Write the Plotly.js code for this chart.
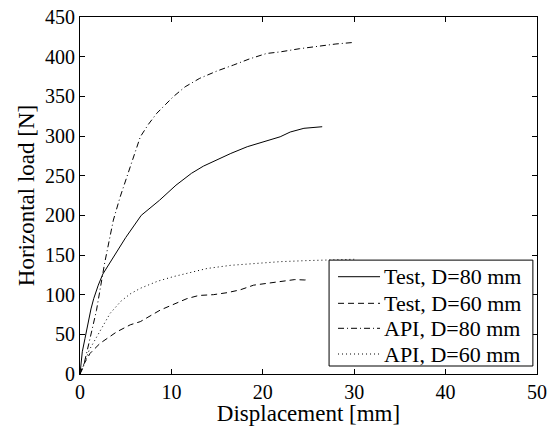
<!DOCTYPE html>
<html>
<head>
<meta charset="utf-8">
<script src="https://cdn.plot.ly/plotly-3.0.1.min.js"></script>
<style>html,body{margin:0;padding:0;background:#fff;}#chart{width:560px;height:426px;}</style>
</head>
<body>
<div id="chart"></div>
<script>
var seriesNames = ["Test, D=80 mm", "Test, D=60 mm", "API, D=80 mm", "API, D=60 mm"];
var seriesDashes = ["solid", "6px,4px", "6px,3px,1px,3px", "1px,3px"];

var test80X = [0, 0.25, 0.55, 0.9, 1.2, 1.5, 2.0, 2.5, 3.8, 5, 6.7, 8.7, 10.5, 12.2, 13.5, 15, 16.5, 18.3, 20.4, 21.9, 23, 24.5, 26.5];
var test80Y = [0, 28, 45, 66, 82, 95, 112, 126, 150, 172, 200, 219, 238, 253, 262, 270, 278, 286.5, 294, 299, 305, 309.7, 311.7];

var test60X = [0, 0.3, 0.7, 1.1, 2.2, 4.0, 5.5, 6.6, 8.8, 10.2, 11.7, 13, 14.6, 16.1, 17.5, 19, 21.9, 23.5, 24.6, 25];
var test60Y = [0, 10, 18, 26, 38.7, 53, 62, 66, 80.7, 88, 95, 99, 100, 102.5, 106, 112, 117, 119, 118.5, 119];

var api80X = [0, 0.37, 1, 1.8, 2.7, 3.65, 4.4, 5.5, 6.6, 7.5, 8.4, 10.2, 11.5, 13.1, 15, 16.8, 18.5, 20.4, 21.9, 24, 26, 28, 30];
var api80Y = [0, 9, 40, 80, 140, 194, 223.5, 262, 299, 315, 328.6, 349.5, 362, 372.7, 382, 389.5, 397, 404, 406, 410, 413, 416, 418];

var api60X = [0, 0.2, 1, 2.2, 3.3, 4.5, 5.5, 6.6, 8.5, 10.2, 12, 13.9, 16.5, 19, 21.9, 25, 27.5, 30];
var api60Y = [0, 5, 30, 55, 76.5, 92, 101, 108, 117, 122.7, 128, 133, 137, 139.5, 141.6, 143, 144, 144.6];

var xTicks = [0, 10, 20, 30, 40, 50];
var yTicks = [0, 50, 100, 150, 200, 250, 300, 350, 400, 450];

var fam = "'Liberation Serif', 'Times New Roman', serif";
var tickFont = {family: fam, size: 20, color: "#000"};
var titleFont = {family: fam, size: 23, color: "#000"};
var legendFont = {family: fam, size: 22, color: "#000"};

var xs = [test80X, test60X, api80X, api60X];
var ys = [test80Y, test60Y, api80Y, api60Y];
var traces = seriesNames.map(function (n, i) {
  return {x: xs[i], y: ys[i], name: n, mode: "lines", showlegend: false,
          line: {color: "#000", width: 1, dash: seriesDashes[i]}};
});

// Legend box drawn in paper coordinates (MATLAB-style legend)
var shapes = [{type: "rect", xref: "paper", yref: "paper", x0: 0.545, x1: 0.991, y0: 0.0224, y1: 0.319,
               line: {color: "#000", width: 1}, fillcolor: "#fff", layer: "above"}];
var annotations = [];
var rowY = [0.2725, 0.198, 0.128, 0.056];
seriesNames.forEach(function (n, i) {
  shapes.push({type: "line", xref: "paper", yref: "paper", x0: 0.5646, x1: 0.6565, y0: rowY[i], y1: rowY[i],
               line: {color: "#000", width: 1, dash: seriesDashes[i]}, layer: "above"});
  annotations.push({xref: "paper", yref: "paper", x: 0.663, y: rowY[i], xanchor: "left", yanchor: "middle",
                    text: n, showarrow: false, font: legendFont, borderpad: 0});
});

var axisCommon = {
  showgrid: false, zeroline: false, showline: true, mirror: "ticks",
  linecolor: "#000", linewidth: 1, ticks: "inside", ticklen: 5, tickwidth: 1, tickcolor: "#000",
  tickfont: tickFont
};

var layout = {
  width: 560, height: 426,
  margin: {l: 80, r: 23, t: 17, b: 52},
  paper_bgcolor: "#fff", plot_bgcolor: "#fff",
  font: tickFont,
  showlegend: false,
  shapes: shapes,
  annotations: annotations,
  xaxis: Object.assign({}, axisCommon, {
    range: [0, 50], tickvals: xTicks, ticktext: xTicks.map(String),
    title: {text: "Displacement [mm]", font: titleFont, standoff: 3}
  }),
  yaxis: Object.assign({}, axisCommon, {
    range: [0, 450], tickvals: yTicks, ticktext: yTicks.map(String),
    title: {text: "Horizontal load [N]", font: titleFont, standoff: 3}
  })
};

Plotly.newPlot("chart", traces, layout, {displayModeBar: false, staticPlot: true});
</script>
</body>
</html>
